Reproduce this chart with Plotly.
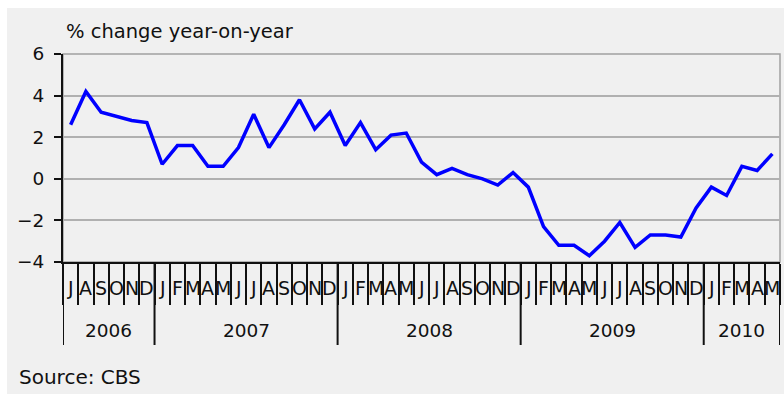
import plotly.graph_objects as go

# ---- data ----
years = [2006, 2007, 2008, 2009, 2010]
months_per_year = [6, 12, 12, 12, 5]          # Jul 2006 .. May 2010
month_letters = ["J", "F", "M", "A", "M", "J", "J", "A", "S", "O", "N", "D"]
month_names = ["Jan", "Feb", "Mar", "Apr", "May", "Jun",
               "Jul", "Aug", "Sep", "Oct", "Nov", "Dec"]
first_month = [6, 0, 0, 0, 0]                  # month index where each year starts

values = [2.6, 4.2, 3.2, 3.0, 2.8, 2.7,
          0.7, 1.6, 1.6, 0.6, 0.6, 1.5, 3.1, 1.5, 2.6, 3.8, 2.4, 3.2,
          1.6, 2.7, 1.4, 2.1, 2.2, 0.8, 0.2, 0.5, 0.2, 0.0, -0.3, 0.3,
          -0.4, -2.3, -3.2, -3.2, -3.7, -3.0, -2.1, -3.3, -2.7, -2.7, -2.8, -1.4,
          -0.4, -0.8, 0.6, 0.4, 1.2]

y_ticks = [-4, -2, 0, 2, 4, 6]
title_text = "% change year-on-year"
source_text = "Source: CBS"

# categories
categories, letters = [], []
for yr, n, m0 in zip(years, months_per_year, first_month):
    for k in range(n):
        categories.append(f"{month_names[m0 + k]} {yr}")
        letters.append(month_letters[m0 + k])

# ---- geometry (pixels) ----
W, H = 784, 394
L, R, T, B = 63, 780, 54, 262
pw, ph = R - L, B - T

def xp(px):
    return (px - L) / pw

def yp(py):
    return (B - py) / ph

FONT = "DejaVu Sans"
TXT = "#111111"
BG = "#f0f0f0"

fig = go.Figure()
fig.add_trace(go.Scatter(
    x=categories, y=values, mode="lines",
    line=dict(color="#0000ff", width=3.5),
    hoverinfo="x+y", showlegend=False,
))

shapes = []
# grey panel background
shapes.append(dict(type="rect", xref="paper", yref="paper",
                   x0=xp(7), x1=xp(W + 2), y0=yp(8), y1=yp(H + 2),
                   fillcolor=BG, line=dict(width=0), layer="below"))
# plot frame (top/right grey)
shapes.append(dict(type="rect", xref="paper", yref="paper",
                   x0=0, x1=1, y0=0, y1=1,
                   line=dict(color="#a0a0a0", width=1.5), layer="below"))

annotations = []
# month letters
for i, lt in enumerate(letters):
    annotations.append(dict(x=i, y=yp(288), xref="x", yref="paper",
                            text=lt, showarrow=False, xanchor="center",
                            yanchor="middle",
                            font=dict(family=FONT, size=19, color=TXT)))
# year separators and year labels
start = 0
bounds = [-0.5]
for yr, n in zip(years, months_per_year):
    end = start + n
    bounds.append(end - 0.5)
    annotations.append(dict(x=(start + end - 1) / 2, y=yp(330), xref="x",
                            yref="paper", text=str(yr), showarrow=False,
                            xanchor="center", yanchor="middle",
                            font=dict(family=FONT, size=18.5, color=TXT)))
    start = end
for b in bounds:
    shapes.append(dict(type="line", xref="x", yref="paper",
                       x0=b, x1=b, y0=yp(262), y1=yp(345),
                       line=dict(color="#111111", width=2)))

annotations.append(dict(x=xp(64), y=yp(32), xref="paper", yref="paper",
                        text=title_text, showarrow=False, xanchor="left",
                        yanchor="middle",
                        font=dict(family=FONT, size=19.5, color=TXT)))
annotations.append(dict(x=xp(17), y=yp(377), xref="paper", yref="paper",
                        text=source_text, showarrow=False, xanchor="left",
                        yanchor="middle",
                        font=dict(family=FONT, size=20, color=TXT)))

fig.update_layout(
    width=W, height=H,
    margin=dict(l=L, r=W - R, t=T, b=H - B, pad=0),
    paper_bgcolor="white", plot_bgcolor=BG,
    shapes=shapes, annotations=annotations,
    xaxis=dict(type="category", range=[-0.5, len(categories) - 0.5],
               tickson="boundaries", ticks="outside", ticklen=41,
               tickwidth=1.5, tickcolor="#111111",
               showticklabels=False, showgrid=False,
               showline=True, linecolor="#111111", linewidth=2,
               zeroline=False, fixedrange=True),
    yaxis=dict(range=[-4, 6], tickvals=y_ticks,
               ticks="outside", ticklen=7, tickwidth=2, tickcolor="#111111",
               showgrid=True, gridcolor="#b0b0b0", gridwidth=1.5,
               showline=True, linecolor="#111111", linewidth=2,
               zeroline=False, ticklabelstandoff=6,
               tickfont=dict(family=FONT, size=18.5, color=TXT),
               fixedrange=True),
    showlegend=False,
)

fig.write_html("out.html", config={"displayModeBar": False})
